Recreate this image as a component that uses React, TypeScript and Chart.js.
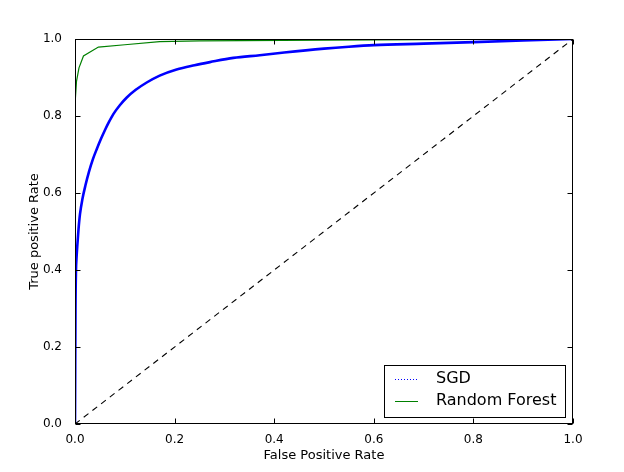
import React, { useEffect, useRef } from "react";
import { Chart, registerables } from "chart.js";

Chart.register(...registerables);

// SGD ROC curve (false positive rate, true positive rate)
const sgdFpr = [0, 0.0005, 0.001, 0.002, 0.003, 0.005, 0.007, 0.010, 0.015, 0.021, 0.028, 0.036, 0.044, 0.052, 0.060, 0.068, 0.077, 0.090, 0.104, 0.122, 0.144, 0.170, 0.204, 0.240, 0.271, 0.318, 0.371, 0.42, 0.5, 0.55, 0.6, 0.7, 0.8, 0.9, 1.0];
const sgdTpr = [0, 0.15, 0.3, 0.4, 0.43, 0.47, 0.505, 0.545, 0.585, 0.62, 0.655, 0.688, 0.715, 0.74, 0.763, 0.784, 0.805, 0.828, 0.848, 0.868, 0.887, 0.905, 0.921, 0.932, 0.94, 0.951, 0.958, 0.965, 0.975, 0.98, 0.984, 0.988, 0.992, 0.996, 1.0];

// Random Forest ROC curve
const rfFpr = [0, 0, 0.003, 0.008, 0.017, 0.047, 0.1, 0.17, 0.25, 0.5, 1.0];
const rfTpr = [0, 0.83, 0.89, 0.925, 0.956, 0.979, 0.985, 0.993, 0.995, 0.997, 1.0];

// Chance diagonal
const diagFpr = [0, 1];
const diagTpr = [0, 1];

const tickValues = [0, 0.2, 0.4, 0.6, 0.8, 1.0];
const legendLabels = ["SGD", "Random Forest"];
const xTitle = "False Positive Rate";
const yTitle = "True positive Rate";

const FONT = "'DejaVu Sans', sans-serif";
const SGD_COLOR = "#0000ff";
const RF_COLOR = "#008000";

const toPoints = (xs: number[], ys: number[]) => xs.map((x, i) => ({ x, y: ys[i] }));

const framePlugin = {
  id: "frameTicksLegend",
  afterDraw(chart: any) {
    const { ctx, chartArea: a, scales } = chart;
    ctx.save();
    ctx.strokeStyle = "#000";
    ctx.lineWidth = 1;
    ctx.setLineDash([]);
    const L = Math.round(a.left) + 0.5;
    const R = Math.round(a.right) - 0.5;
    const T = Math.round(a.top) + 0.5;
    const B = Math.round(a.bottom) - 0.5;
    ctx.strokeRect(L, T, R - L, B - T);
    const tl = 5;
    ctx.beginPath();
    tickValues.forEach((v) => {
      const px = Math.round(scales.x.getPixelForValue(v)) + 0.5;
      ctx.moveTo(px, B);
      ctx.lineTo(px, B - tl);
      ctx.moveTo(px, T);
      ctx.lineTo(px, T + tl);
      const py = Math.round(scales.y.getPixelForValue(v)) + 0.5;
      ctx.moveTo(L, py);
      ctx.lineTo(L + tl, py);
      ctx.moveTo(R, py);
      ctx.lineTo(R - tl, py);
    });
    ctx.stroke();

    // legend box
    const bw = 181;
    const bh = 52;
    const bxi = Math.round(a.right) - 8 - bw;
    const byi = Math.round(a.bottom) - 7 - bh;
    const bx = bxi + 0.5;
    const by = byi + 0.5;
    ctx.fillStyle = "#fff";
    ctx.fillRect(bx, by, bw, bh);
    ctx.strokeStyle = "#000";
    ctx.strokeRect(bx, by, bw, bh);
    const rows = [byi + 14, byi + 36];
    const colors = [SGD_COLOR, RF_COLOR];
    const dashes = [[1, 2], []];
    rows.forEach((ry, i) => {
      ctx.beginPath();
      ctx.strokeStyle = colors[i];
      ctx.lineWidth = 1;
      ctx.setLineDash(dashes[i]);
      ctx.moveTo(bxi + 11, ry + 0.5);
      ctx.lineTo(bxi + 34, ry + 0.5);
      ctx.stroke();
      ctx.setLineDash([]);
      ctx.fillStyle = "#000";
      ctx.font = `16px ${FONT}`;
      ctx.textBaseline = "middle";
      ctx.textAlign = "left";
      ctx.fillText(legendLabels[i], bxi + 52, ry);
    });
    ctx.restore();
  },
};

export default function App() {
  const ref = useRef<HTMLCanvasElement | null>(null);
  useEffect(() => {
    document.body.style.margin = "0";
    if (!ref.current) return;
    const chart = new Chart(ref.current, {
      type: "scatter",
      data: {
        datasets: [
          {
            label: legendLabels[1],
            data: toPoints(rfFpr, rfTpr),
            showLine: true,
            borderColor: RF_COLOR,
            backgroundColor: RF_COLOR,
            borderWidth: 1.2,
            pointRadius: 0,
            order: 0,
          },
          {
            label: "diag",
            data: toPoints(diagFpr, diagTpr),
            showLine: true,
            borderColor: "#000",
            borderWidth: 1.1,
            borderDash: [6, 5],
            pointRadius: 0,
            order: 1,
          },
          {
            label: legendLabels[0],
            data: toPoints(sgdFpr, sgdTpr),
            showLine: true,
            borderColor: SGD_COLOR,
            backgroundColor: SGD_COLOR,
            borderWidth: 2.6,
            pointRadius: 0,
            cubicInterpolationMode: "monotone",
            order: 2,
          },
        ],
      },
      options: {
        animation: false,
        responsive: false,
        maintainAspectRatio: false,
        layout: { padding: { top: 39, right: 51, left: 0, bottom: 0 } },
        plugins: { legend: { display: false }, tooltip: { enabled: false } },
        scales: {
          x: {
            type: "linear",
            min: 0,
            max: 1,
            afterBuildTicks: (s: any) => {
              s.ticks = tickValues.map((v) => ({ value: v }));
            },
            afterFit: (s: any) => {
              s.height = 48;
            },
            grid: { display: false },
            border: { display: false },
            ticks: {
              color: "#000",
              font: { family: FONT, size: 12 },
              padding: 1,
              maxRotation: 0,
              callback: (v: any) => Number(v).toFixed(1),
            },
            title: {
              display: true,
              text: xTitle,
              color: "#000",
              font: { family: FONT, size: 13 },
              padding: { top: 0, bottom: 9 },
            },
          },
          y: {
            type: "linear",
            min: 0,
            max: 1,
            afterBuildTicks: (s: any) => {
              s.ticks = tickValues.map((v) => ({ value: v }));
            },
            afterFit: (s: any) => {
              s.width = 75;
            },
            grid: { display: false },
            border: { display: false },
            ticks: {
              color: "#000",
              font: { family: FONT, size: 12 },
              padding: 5,
              callback: (v: any) => Number(v).toFixed(1),
            },
            title: {
              display: true,
              text: yTitle,
              color: "#000",
              font: { family: FONT, size: 13 },
              padding: { top: 27, bottom: 0 },
            },
          },
        },
      },
      plugins: [framePlugin],
    });
    return () => chart.destroy();
  }, []);
  return (
    <div style={{ position: "absolute", left: 0, top: 0, width: 624, height: 472, background: "#fff" }}>
      <canvas ref={ref} width={624} height={472} style={{ width: 624, height: 472 }} />
    </div>
  );
}
